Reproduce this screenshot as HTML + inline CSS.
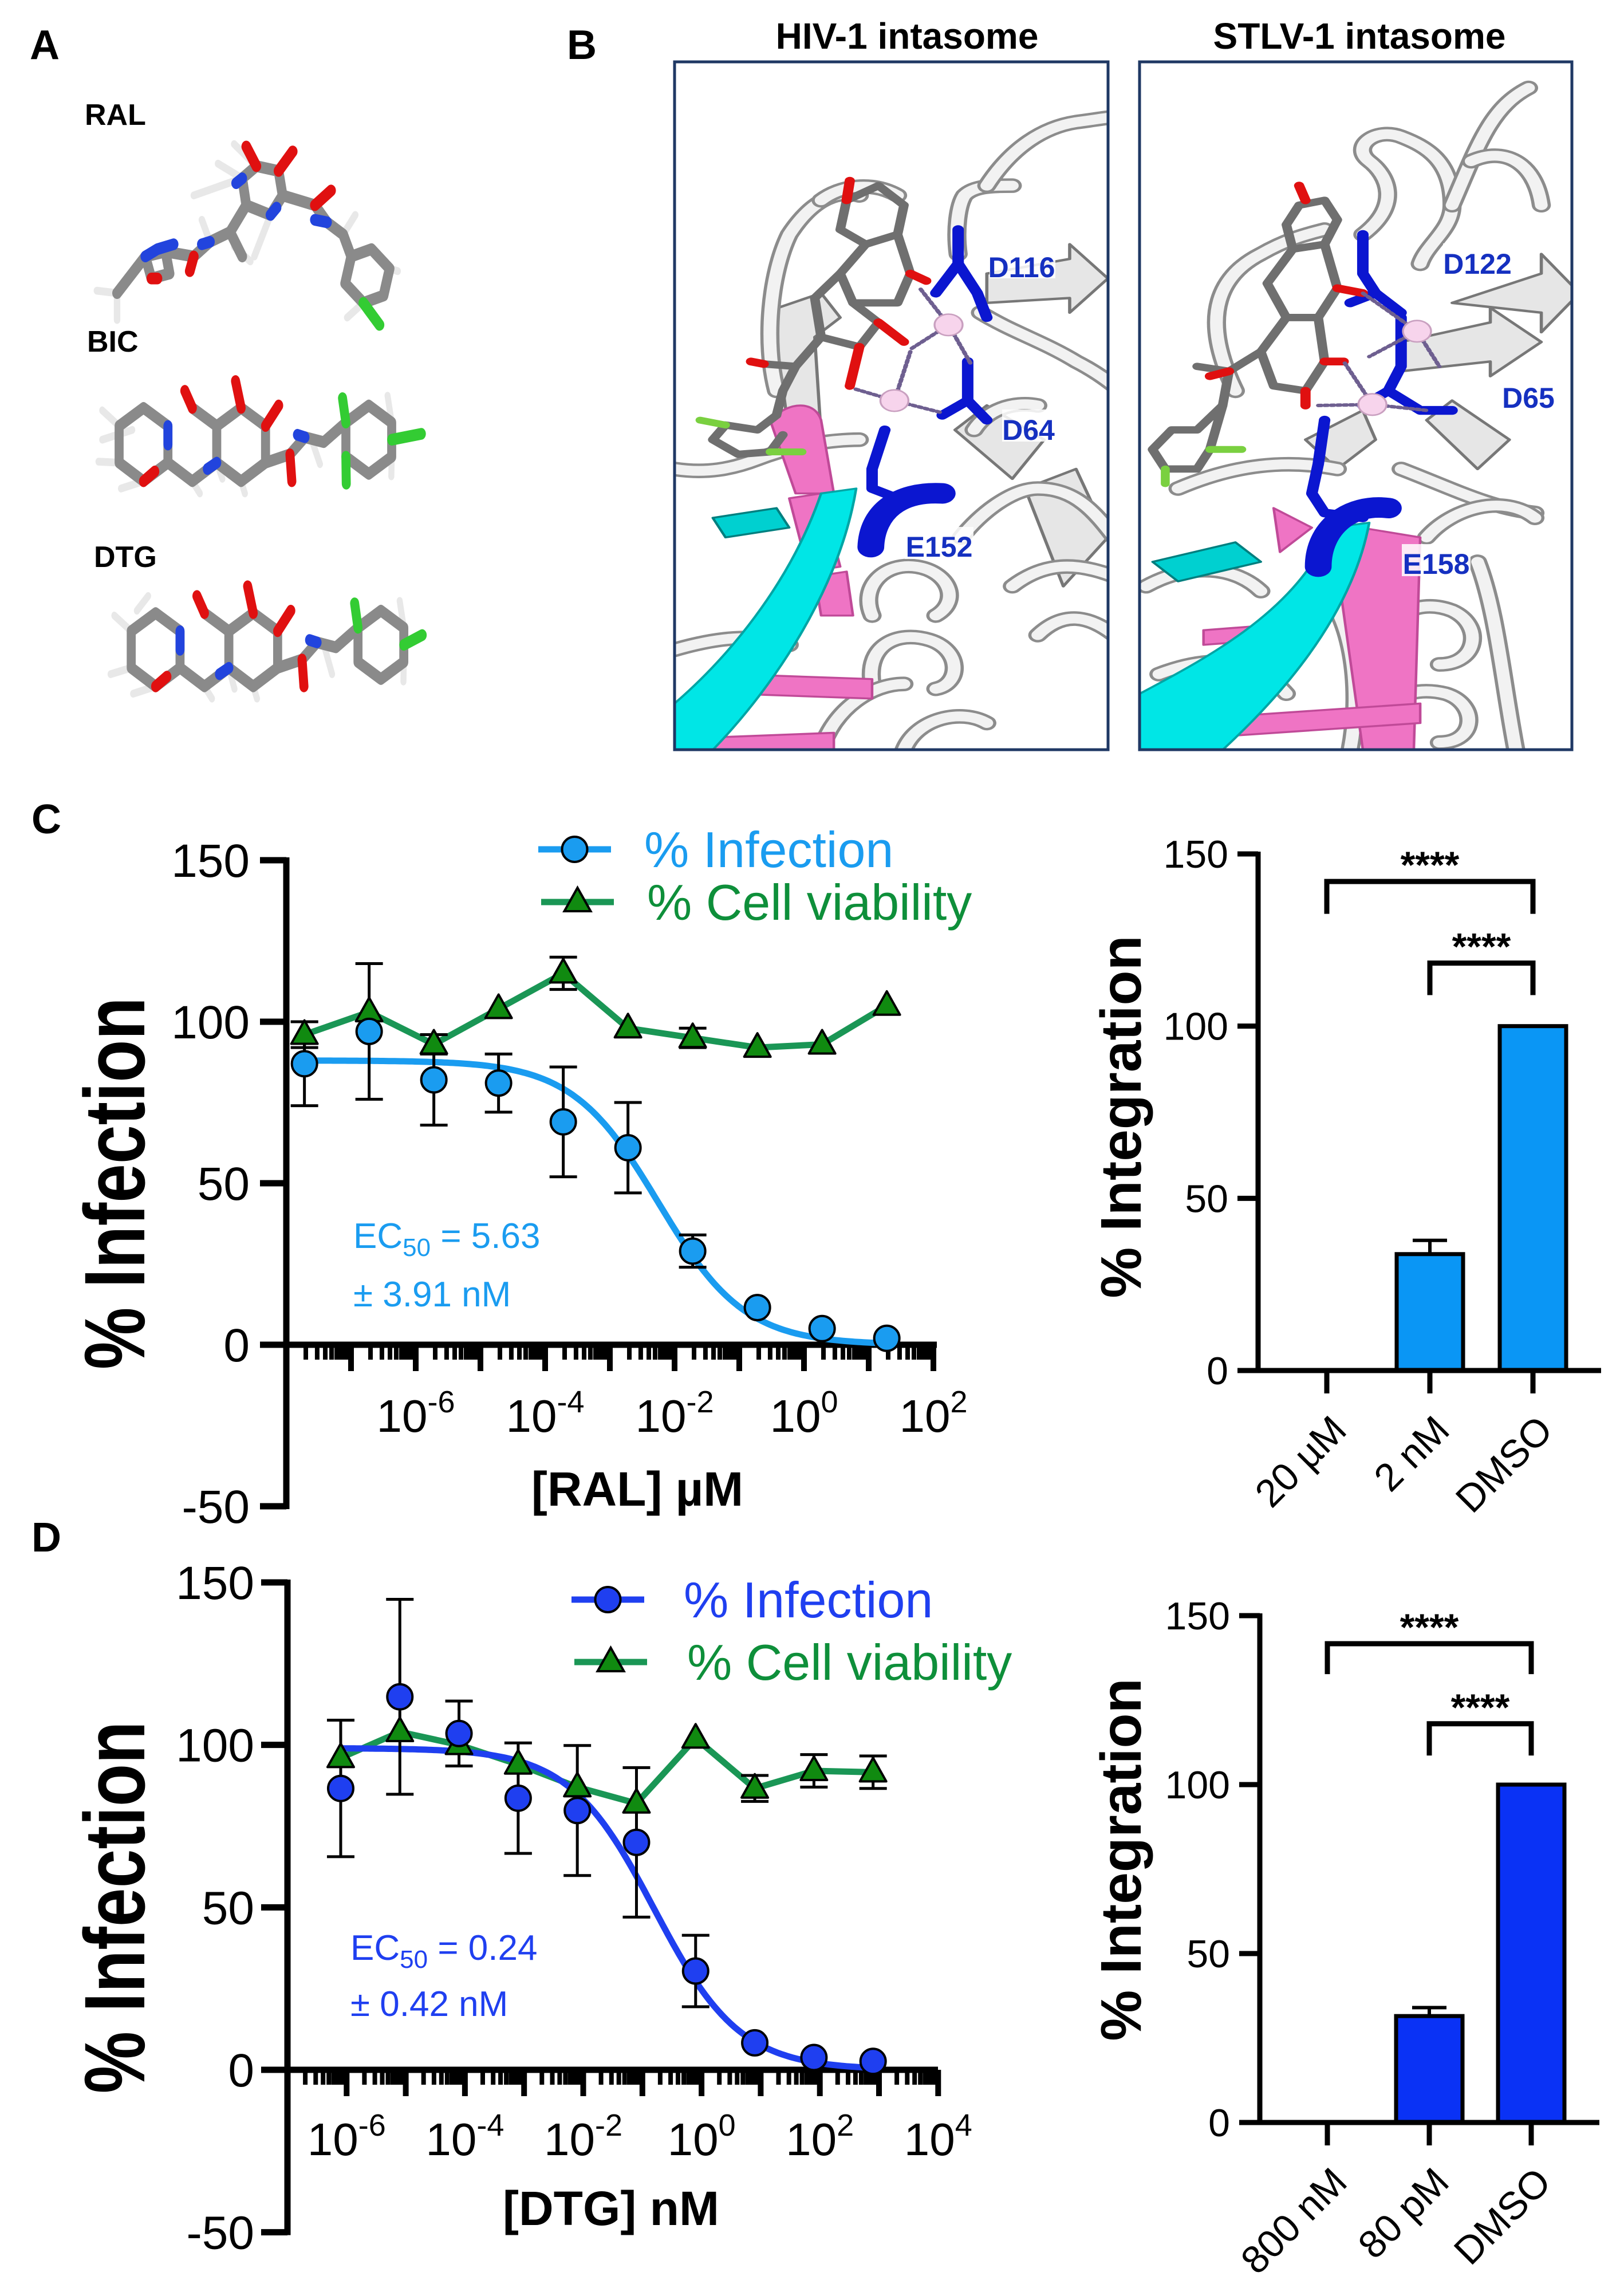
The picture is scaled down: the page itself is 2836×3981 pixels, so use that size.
<!DOCTYPE html>
<html><head><meta charset="utf-8"><style>
html,body{margin:0;padding:0;background:#fff;}
svg{display:block;}
text{font-family:"Liberation Sans",Arial,sans-serif;}
</style></head><body>
<svg id="fig" xmlns="http://www.w3.org/2000/svg" width="2836" height="3981" viewBox="0 0 2836 3981">
<rect x="0" y="0" width="2836" height="3981" fill="#fff"/>
<defs>
<clipPath id="clipB1"><rect x="1178" y="108" width="757" height="1201"/></clipPath>
<clipPath id="clipB2"><rect x="1990" y="108" width="755" height="1201"/></clipPath>
</defs>

<!-- Panel A -->
<text x="52" y="103" font-size="72" font-weight="bold">A</text>
<text x="148" y="218" font-size="52" font-weight="bold">RAL</text>
<text x="152" y="614" font-size="52" font-weight="bold">BIC</text>
<text x="164" y="990" font-size="52" font-weight="bold">DTG</text>

<g transform="matrix(0.705,0,0,0.853,0,0)" stroke-linecap="round" stroke-linejoin="round" fill="none">
 <g transform="translate(-20,55)">
  <g stroke="#e8e8e8" stroke-width="16">
   <path d="M655,285 L600,240 M690,385 L650,470 M540,440 L520,395 M310,545 L260,540 M310,545 L310,600 M985,495 L1005,500 M920,565 L880,595 M870,425 L900,385 M620,310 L560,280 M620,310 L500,345 M600,450 L640,480"/>
  </g>
  <g stroke="#8a8a8a" stroke-width="24">
   <path d="M620,310 L655,285 L710,295 L720,345 L690,385 L630,365 Z"/>
   <path d="M720,345 L800,365 L830,400 L870,425 L890,470"/>
   <path d="M890,470 L940,455 L985,495 L970,550 L920,565 L875,525 Z"/>
   <path d="M630,365 L590,420 L540,440 L500,470 L430,460"/>
   <path d="M430,460 L380,470 L395,515 L440,505 Z M380,470 L310,545"/>
   <path d="M590,420 L620,470"/>
  </g>
  <g stroke-width="24">
   <path d="M655,285 L630,245" stroke="#e01010"/>
   <path d="M710,295 L745,255" stroke="#e01010"/>
   <path d="M800,365 L840,335" stroke="#e01010"/>
   <path d="M500,470 L490,500" stroke="#e01010"/>
   <path d="M395,515 L410,515" stroke="#e01010"/>
   <path d="M690,385 L705,370 M620,310 L605,320" stroke="#2244dd"/>
   <path d="M830,400 L800,395" stroke="#2244dd"/>
   <path d="M540,440 L520,445" stroke="#2244dd"/>
   <path d="M380,470 L410,455 L450,445" stroke="#2244dd"/>
   <path d="M920,565 L960,610" stroke="#33cc33"/>
  </g>
 </g>
 <g transform="translate(30,0) scale(0.93,1)">
  <g stroke="#e8e8e8" stroke-width="16"><path d="M285,872 L240,840 M285,947 L230,945 M350,985 L290,1000 M545,947 L560,980 M610,985 L620,1010 M800,905 L820,950 M1011,865 L1000,810 M1011,935 L1010,975 M480,985 L500,1010 M240,900 L320,880"/></g>
  <g stroke="#8a8a8a" stroke-width="24">
   <path d="M350,835 L415,872 L415,947 L350,985 L285,947 L285,872 Z"/>
   <path d="M480,835 L545,872 L545,947 L480,985 L415,947"/>
   <path d="M610,835 L675,872 L675,947 L610,985 L545,947 M545,872 L610,835"/>
   <path d="M675,947 L740,930 L780,895 L830,905 L889,865"/>
   <path d="M950,830 L1011,865 L1011,935 L950,970 L889,935 L889,865 Z"/>
  </g>
  <g stroke-width="24">
   <path d="M480,835 L460,800" stroke="#e01010"/><path d="M610,835 L595,780" stroke="#e01010"/>
   <path d="M675,872 L710,830" stroke="#e01010"/><path d="M740,930 L745,985" stroke="#e01010"/>
   <path d="M350,985 L380,965" stroke="#e01010"/>
   <path d="M415,872 L415,910 M545,947 L520,960" stroke="#2244dd"/>
   <path d="M780,895 L760,890" stroke="#2244dd"/>
   <path d="M889,865 L880,815 M1011,900 L1090,888 M889,935 L890,990" stroke="#33cc33"/>
  </g>
 </g>
 <g transform="translate(60,420) scale(0.93,1)">
  <g stroke="#e8e8e8" stroke-width="16"><path d="M285,872 L240,840 M285,947 L230,960 M350,985 L290,1000 M545,947 L560,990 M610,985 L620,1010 M800,905 L820,960 M1011,865 L1000,810 M1011,935 L1010,975 M480,985 L500,1010 M300,830 L330,800"/></g>
  <g stroke="#8a8a8a" stroke-width="24">
   <path d="M350,835 L415,872 L415,947 L350,985 L285,947 L285,872 Z"/>
   <path d="M480,835 L545,872 L545,947 L480,985 L415,947"/>
   <path d="M610,835 L675,872 L675,947 L610,985 L545,947 M545,872 L610,835"/>
   <path d="M675,947 L740,930 L780,895 L830,905 L889,865"/>
   <path d="M950,830 L1011,865 L1011,935 L950,970 L889,935 L889,865 Z"/>
  </g>
  <g stroke-width="24">
   <path d="M480,835 L460,800" stroke="#e01010"/><path d="M610,835 L595,780" stroke="#e01010"/>
   <path d="M675,872 L710,830" stroke="#e01010"/><path d="M740,930 L745,985" stroke="#e01010"/>
   <path d="M350,985 L380,965" stroke="#e01010"/>
   <path d="M415,872 L415,910 M545,947 L520,960" stroke="#2244dd"/>
   <path d="M780,895 L760,890" stroke="#2244dd"/>
   <path d="M889,865 L880,815 M1011,900 L1060,880" stroke="#33cc33"/>
  </g>
 </g>
</g>

<!-- Panel B -->
<text x="990" y="103" font-size="72" font-weight="bold">B</text>
<text x="1584" y="85" font-size="64" font-weight="bold" text-anchor="middle">HIV-1 intasome</text>
<text x="2374" y="85" font-size="64" font-weight="bold" text-anchor="middle">STLV-1 intasome</text>

<g id="b1" clip-path="url(#clipB1)"></g>
<g id="b2" clip-path="url(#clipB2)"></g>
<rect x="1178" y="108" width="757" height="1201" fill="none" stroke="#1f3864" stroke-width="5"/>
<rect x="1990" y="108" width="755" height="1201" fill="none" stroke="#1f3864" stroke-width="5"/>
<g font-size="50" font-weight="bold" fill="#1530c0">
 <rect x="1728" y="430" width="115" height="56" fill="#fff" opacity="0.85"/>
 <text x="1784" y="484" text-anchor="middle">D116</text>
 <rect x="1750" y="715" width="95" height="56" fill="#fff" opacity="0.85"/>
 <text x="1796" y="768" text-anchor="middle">D64</text>
 <rect x="1580" y="920" width="120" height="56" fill="#fff" opacity="0.85"/>
 <text x="1640" y="972" text-anchor="middle">E152</text>
 <rect x="2520" y="425" width="120" height="56" fill="#fff" opacity="0.85"/>
 <text x="2580" y="478" text-anchor="middle">D122</text>
 <rect x="2620" y="660" width="100" height="56" fill="#fff" opacity="0.85"/>
 <text x="2669" y="712" text-anchor="middle">D65</text>
 <rect x="2448" y="950" width="120" height="56" fill="#fff" opacity="0.85"/>
 <text x="2508" y="1002" text-anchor="middle">E158</text>
</g>

<!-- Panel C / D -->
<text x="55" y="1455" font-size="72" font-weight="bold">C</text>
<text x="55" y="2709" font-size="72" font-weight="bold">D</text>
<g id="chartC"></g>
<g id="barC"></g>
<g id="chartD"></g>
<g id="barD"></g>
</svg>

<script>
// ---------- Panel C data ----------
const cLogConc = [-7.72,-6.72,-5.72,-4.72,-3.72,-2.72,-1.72,-0.72,0.28,1.28];
const cInfection = [87,97,82,81,69,61,29,11.5,5,2];
const cInfectionErr = [13,21,14,9,17,14,5,0,0,0];
const cViability = [96,103,93,104,115,98,95,92,93,105];
const cViabilityErr = [4,0,3,0,5,0,3,0,0,0];
const cFit = [88,0,-2.25,0.65]; // top, bottom, logEC50, hill
const cYTicks = [150,100,50,0,-50];
const cXLabelDecades = [-6,-4,-2,0,2];
const cBarLabels = ["20 µM","2 nM","DMSO"];
const cBarValues = [0.3,33.8,100];
const cBarErr = [0,4,0];
const cBarYTicks = [150,100,50,0];
const cSig = [[0,2,142,132.6,"****"],[1,2,118.3,109,"****"]];

// ---------- Panel D data ----------
const dLogConc = [-6.1,-5.1,-4.1,-3.1,-2.1,-1.1,-0.1,0.9,1.9,2.9];
const dInfection = [86.6,114.8,103.5,83.6,79.8,70,30.4,8.3,3.8,2.6];
const dInfectionErr = [21,30,10,17,20,23,11,0,0,0];
const dViability = [96,104,100,94,87,82,102,86.6,92,91.6];
const dViabilityErr = [0,0,0,0,0,0,0,4,5,5];
const dFit = [99,0,-0.8,0.6];
const dYTicks = [150,100,50,0,-50];
const dXLabelDecades = [-6,-4,-2,0,2,4];
const dBarLabels = ["800 nM","80 pM","DMSO"];
const dBarValues = [0,31.5,100];
const dBarErr = [0,2.5,0];
const dBarYTicks = [150,100,50,0];
const dSig = [[0,2,141.7,132.7,"****"],[1,2,118,108.6,"****"]];

const NS = 'http://www.w3.org/2000/svg';
function mk(tag, attrs, parent){
  const e = document.createElementNS(NS, tag);
  for (const k in attrs) e.setAttribute(k, attrs[k]);
  parent.appendChild(e);
  return e;
}

function doseChart(g, ax, logs, inf, infErr, via, viaErr, fit, yTicks, xLabs, col, legTxtCol, legend, ec, xTitle){
  const xPx = l => ax.xL + (l - ax.logMin) * ax.pxDec;
  const k = (ax.y0 - ax.y150) / 150;
  const yPx = v => ax.y0 - v * k;
  let el = mk('line', {x1:ax.xL, y1:yPx(150)-5, x2:ax.xL, y2:yPx(-50)+5, stroke:'#000','stroke-width':11}, g);
  
  
  yTicks.forEach(t => {
    const tk = mk('line', {x1:ax.xL-46, y1:yPx(t), x2:ax.xL, y2:yPx(t), stroke:'#000','stroke-width':11}, g);
    
    
    const tl = mk('text', {x:ax.labR, y:yPx(t)+29, 'font-size':82, 'text-anchor':'end'}, g);
    tl.textContent = String(t);
    
    
  });
  el = mk('line', {x1:ax.xL, y1:ax.y0, x2:ax.xR, y2:ax.y0, stroke:'#000','stroke-width':11}, g);
  
  
  for (let d = ax.logMin; d < ax.logMax; d++) {
    for (let m = 1; m <= 9; m++) {
      const lx = d + Math.log10(m);
      const len = m === 1 ? 46 : 26;
      const t = mk('line', {x1:xPx(lx), y1:ax.y0, x2:xPx(lx), y2:ax.y0+len, stroke:'#000','stroke-width': m===1?10:8}, g);
      
      
    }
  }
  el = mk('line', {x1:xPx(ax.logMax), y1:ax.y0, x2:xPx(ax.logMax), y2:ax.y0+46, stroke:'#000','stroke-width':10}, g);
  
  
  xLabs.forEach(d => {
    const t = mk('text', {x:xPx(d), y:ax.xLabBase, 'font-size':80, 'text-anchor':'middle'}, g);
    
    
    const a = mk('tspan', {}, t); a.textContent = '10';
    const b = mk('tspan', {'font-size':54, dy:-34}, t); b.textContent = String(d);
  });
  el = mk('text', {x:ax.xTitleX, y:ax.xTitleBase, 'font-size':84, 'font-weight':'bold', 'text-anchor':'middle'}, g);
  el.textContent = xTitle;
  
  
  const yc = (yPx(150) + yPx(-50)) / 2;
  el = mk('text', {x:0, y:0, 'font-size':150, 'font-weight':'bold', 'text-anchor':'middle', textLength:650, lengthAdjust:'spacingAndGlyphs', transform:`translate(252,${yc}) rotate(-90)`}, g);
  el.textContent = '% Infection';
  
  
  const vpts = logs.map((l,i) => `${xPx(l)},${yPx(via[i])}`).join(' ');
  el = mk('polyline', {points:vpts, fill:'none', stroke:'#1a9655', 'stroke-width':11, 'stroke-linejoin':'round'}, g);
  
  
  let d = '';
  const lo = logs[0], hi = logs[logs.length-1];
  for (let i = 0; i <= 200; i++) {
    const l = lo + (hi - lo) * i / 200;
    const v = fit[1] + (fit[0] - fit[1]) / (1 + Math.pow(10, (l - fit[2]) * fit[3]));
    d += (i ? 'L' : 'M') + xPx(l).toFixed(1) + ',' + yPx(v).toFixed(1);
  }
  el = mk('path', {d:d, fill:'none', stroke:col, 'stroke-width':11, 'stroke-linecap':'round'}, g);
  
  
  function errBar(x, v, e, name){
    if (!e) return;
    const eb = mk('path', {d:`M${x},${yPx(v+e)}L${x},${yPx(v-e)}M${x-24},${yPx(v+e)}L${x+24},${yPx(v+e)}M${x-24},${yPx(v-e)}L${x+24},${yPx(v-e)}`, stroke:'#000', 'stroke-width':5, fill:'none'}, g);
    
    
  }
  logs.forEach((l,i) => errBar(xPx(l), via[i], viaErr[i], 'viability-error-bar'));
  logs.forEach((l,i) => errBar(xPx(l), inf[i], infErr[i], 'infection-error-bar'));
  logs.forEach((l,i) => {
    const x = xPx(l), y = yPx(via[i]);
    const t = mk('polygon', {points:`${x},${y-25} ${x-23},${y+16} ${x+23},${y+16}`, fill:'#108a10', stroke:'#000', 'stroke-width':4, 'stroke-linejoin':'round'}, g);
    
    
  });
  logs.forEach((l,i) => {
    const c = mk('circle', {cx:xPx(l), cy:yPx(inf[i]), r:22, fill:col, stroke:'#000', 'stroke-width':4}, g);
    
    
  });
  const L = legend;
  el = mk('line', {x1:L.x1, y1:L.y1, x2:L.x2, y2:L.y1, stroke:col, 'stroke-width':11}, g);
  
  
  el = mk('circle', {cx:(L.x1+L.x2)/2, cy:L.y1, r:22, fill:col, stroke:'#000', 'stroke-width':4}, g);
  
  
  el = mk('text', {x:L.tx1, y:L.y1+31, 'font-size':88, fill:legTxtCol}, g);
  el.textContent = '% Infection';
  
  
  el = mk('line', {x1:L.x1+5, y1:L.y2, x2:L.x2+5, y2:L.y2, stroke:'#1a9655', 'stroke-width':11}, g);
  
  
  const mx = (L.x1+L.x2)/2+5, my = L.y2;
  el = mk('polygon', {points:`${mx},${my-25} ${mx-23},${my+16} ${mx+23},${my+16}`, fill:'#108a10', stroke:'#000', 'stroke-width':4}, g);
  
  
  el = mk('text', {x:L.tx2, y:L.y2+31, 'font-size':88, fill:'#0e8f3a'}, g);
  el.textContent = '% Cell viability';
  
  
  el = mk('text', {x:ec.x, y:ec.y1, 'font-size':62, fill:col}, g);
  
  
  let s = mk('tspan', {}, el); s.textContent = 'EC';
  s = mk('tspan', {'font-size':44, dy:14}, el); s.textContent = '50';
  s = mk('tspan', {dy:-14}, el); s.textContent = ' = ' + ec.v;
  el = mk('text', {x:ec.x, y:ec.y2, 'font-size':62, fill:col}, g);
  el.textContent = '± ' + ec.e + ' nM';
  
  
}

function barChart(g, ax, labels, vals, errs, yTicks, sig, col){
  const k = (ax.y0 - ax.y150) / 150;
  const yPx = v => ax.y0 - v * k;
  const xPx = i => ax.c0 + i * ax.step;
  let el = mk('line', {x1:ax.xL, y1:yPx(150)-4, x2:ax.xL, y2:ax.y0+4, stroke:'#000', 'stroke-width':9}, g);
  
  
  yTicks.forEach(t => {
    const tk = mk('line', {x1:ax.xL-36, y1:yPx(t), x2:ax.xL, y2:yPx(t), stroke:'#000', 'stroke-width':9}, g);
    
    
    const tl = mk('text', {x:ax.xL-52, y:yPx(t)+24, 'font-size':68, 'text-anchor':'end'}, g);
    tl.textContent = String(t);
    
    
  });
  el = mk('text', {x:0, y:0, 'font-size':100, 'font-weight':'bold', 'text-anchor':'middle', transform:`translate(${ax.titleX},${ax.titleY}) rotate(-90)`}, g);
  el.textContent = '% Integration';
  
  
  labels.forEach((lab,i) => {
    const x = xPx(i);
    if (vals[i] > 0.5) {
      const b = mk('rect', {x:x-58, y:yPx(vals[i]), width:116, height:ax.y0-yPx(vals[i]), fill:col, stroke:'#000', 'stroke-width':7}, g);
      
      
    }
    if (errs[i]) {
      const e = mk('path', {d:`M${x},${yPx(vals[i])}L${x},${yPx(vals[i]+errs[i])}M${x-30},${yPx(vals[i]+errs[i])}L${x+30},${yPx(vals[i]+errs[i])}`, stroke:'#000', 'stroke-width':6, fill:'none'}, g);
      
      
    }
    const tk = mk('line', {x1:x, y1:ax.y0, x2:x, y2:ax.y0+40, stroke:'#000', 'stroke-width':9}, g);
    
    
    const tl = mk('text', {x:0, y:0, 'font-size':68, 'text-anchor':'end', transform:`translate(${x+38},${ax.y0+108}) rotate(-45)`}, g);
    tl.textContent = lab;
    
    
  });
  el = mk('line', {x1:ax.xL, y1:ax.y0, x2:ax.xR, y2:ax.y0, stroke:'#000', 'stroke-width':9}, g);
  
  
  sig.forEach(s => {
    const xa = xPx(s[0]), xb = xPx(s[1]), yb = yPx(s[2]), yl = yPx(s[3]);
    const br = mk('path', {d:`M${xa},${yl}L${xa},${yb}L${xb},${yb}L${xb},${yl}`, fill:'none', stroke:'#000', 'stroke-width':9}, g);
    
    
    const st = mk('text', {x:(xa+xb)/2, y:yb-6, 'font-size':66, 'font-weight':'bold', 'text-anchor':'middle'}, g);
    st.textContent = s[4];
    
    
  });
}

doseChart(document.getElementById('chartC'),
  {xL:500, xR:1636, logMin:-8, logMax:2, pxDec:113, y150:1502, y0:2348, labR:436, xLabBase:2500, xTitleX:1113, xTitleBase:2629},
  cLogConc, cInfection, cInfectionErr, cViability, cViabilityErr, cFit, cYTicks, cXLabelDecades,
  '#1a9cf0', '#1a9cf0', {x1:940, x2:1067, y1:1483, y2:1575, tx1:1125, tx2:1130},
  {x:617, y1:2179, y2:2281, v:'5.63', e:'3.91'}, '[RAL]  µM');

doseChart(document.getElementById('chartD'),
  {xL:502, xR:1638, logMin:-7, logMax:4, pxDec:103.3, y150:2763, y0:3614, labR:444, xLabBase:3763, xTitleX:1067, xTitleBase:3885},
  dLogConc, dInfection, dInfectionErr, dViability, dViabilityErr, dFit, dYTicks, dXLabelDecades,
  '#1f3ff0', '#1f3ff0', {x1:998, x2:1125, y1:2793, y2:2902, tx1:1194, tx2:1200},
  {x:612, y1:3422, y2:3520, v:'0.24', e:'0.42'}, '[DTG]  nM');

barChart(document.getElementById('barC'),
  {xL:2197, xR:2796, y150:1491, y0:2393, c0:2317, step:180, titleX:1992, titleY:1950},
  cBarLabels, cBarValues, cBarErr, cBarYTicks, cSig, '#0a96f5');
barChart(document.getElementById('barD'),
  {xL:2200, xR:2793, y150:2821, y0:3706, c0:2318, step:178, titleX:1992, titleY:3247},
  dBarLabels, dBarValues, dBarErr, dBarYTicks, dSig, '#0a32f5');

// ---------- Panel B protein illustrations ----------
function tubes(g, list){
  list.forEach(d => {
    const a = mk('path', {d:d, fill:'none', stroke:'#8c8c8c', 'stroke-width':30, 'stroke-linecap':'round'}, g);
    
    
    const b = mk('path', {d:d, fill:'none', stroke:'#f2f2f2', 'stroke-width':20, 'stroke-linecap':'round'}, g);
    
    
  });
}
function scene(g, off, variant){
  const s = mk('g', {transform:`translate(1100,0) scale(1.113,0.853) translate(${off},0)`, 'stroke-linejoin':'round', 'stroke-linecap':'round'}, g);
  
  
  let el;
  const sheets = variant ? ['M480,700 L620,660 L620,630 L700,700 L620,770 L620,740 L480,760 Z','M560,620 L700,560 L700,520 L760,600 L700,680 L700,640 Z','M330,900 L420,840 L440,900 L380,960 Z','M520,860 L560,820 L650,900 L600,960 Z'] :
    ['M210,640 L300,600 L330,650 L290,690 L300,890 L250,890 L230,700 Z','M560,560 L690,530 L690,500 L750,570 L690,640 L690,610 L560,620 Z','M510,880 L560,830 L650,900 L600,980 Z','M620,1000 L700,960 L750,1100 L680,1200 Z'];
  sheets.forEach(p => {
    el = mk('path', {d:p, fill:'#e6e6e6', stroke:'#777', 'stroke-width':5}, s);
    
    
  });
  tubes(s, variant ? [
    'M130,1000 C220,950 300,940 380,960','M220,800 C160,640 200,560 260,520 C300,490 330,480 360,470',
    'M420,480 C480,420 460,360 430,330 C400,300 440,260 480,280 C520,300 560,330 560,420 C560,470 520,500 510,540',
    'M560,420 C600,300 620,220 680,180','M590,330 C640,300 690,330 700,420','M480,960 C560,1000 620,1040 690,1050',
    'M520,1100 C560,1040 640,1010 690,1060','M480,1350 C440,1270 500,1220 560,1250 C610,1280 600,1360 540,1360',
    'M470,1520 C430,1440 490,1400 550,1420 C600,1440 600,1520 540,1520','M100,1380 C200,1330 260,1360 300,1420',
    'M80,1200 C150,1150 220,1160 260,1210','M600,1150 C630,1250 640,1400 660,1535','M350,1200 C400,1250 420,1400 400,1535']
   : [
    'M230,800 C210,700 220,560 250,480 C290,400 330,390 360,400','M300,410 C330,380 380,370 420,400',
    'M515,520 C510,470 515,420 525,400 C540,380 570,380 600,380','M560,380 C600,300 650,260 700,250 C730,245 750,240 760,240',
    'M550,640 C600,680 650,700 700,740 C730,760 750,780 760,790','M70,960 C120,970 160,960 200,940 C260,910 320,900 360,900',
    'M70,1330 C150,1300 200,1300 250,1320','M380,1260 C360,1200 400,1150 450,1160 C500,1170 520,1230 480,1260',
    'M380,1400 C370,1320 420,1290 470,1310 C520,1330 520,1400 480,1410','M520,1100 C550,1050 600,1000 640,1000 C700,1000 730,1050 760,1100',
    'M540,880 C560,840 600,820 640,830','M600,1200 C650,1150 700,1150 760,1180','M300,1535 C320,1450 380,1400 430,1400',
    'M430,1535 C450,1470 520,1450 560,1480','M640,1300 C680,1250 720,1260 760,1300']);
  const pinks = variant ? ['M1100,1070 L1240,1100 L1230,1535 L1150,1535 Z','M900,1290 L1000,1280 L1000,1310 L900,1320 Z','M900,1470 L1240,1440 L1240,1480 L900,1510 Z','M1010,1040 L1070,1080 L1020,1130 Z']
    : ['M220,860 C250,820 290,820 300,860 L320,1010 L260,1010 Z','M160,1380 L380,1390 L380,1430 L160,1420 Z','M120,1510 L320,1500 L320,1535 L120,1535 Z','M290,1180 L340,1170 L350,1260 L300,1260 Z','M250,1020 L300,1010 L330,1160 L280,1170 Z'];
  pinks.forEach(p => {
    el = mk('path', {d:variant ? p.replace(/(\d+),/g,(m,a)=>(a-730)+','): p, fill:'#ef74c4', stroke:'#c04a98', 'stroke-width':4}, s);
    
    
  });
  const cy = variant ? 'M70,1420 C170,1350 320,1250 370,1080 L430,1070 C400,1280 270,1450 200,1535 L70,1535 Z' : 'M70,1440 C150,1350 250,1200 300,1010 L355,1000 C330,1200 230,1400 130,1535 L70,1535 Z';
  el = mk('path', {d:cy, fill:'#00e6e6', stroke:'#00a5a5', 'stroke-width':4}, s);
  
  
  el = mk('path', {d: variant ? 'M90,1150 L220,1110 L260,1150 L130,1190 Z' : 'M130,1060 L230,1040 L250,1080 L150,1100 Z', fill:'#00d0d0', stroke:'#007f7f', 'stroke-width':4}, s);
  
  
  const blue = variant ?
    ['M420,480 L420,560 L440,600 L480,640 M440,600 L400,620','M480,650 L480,750 L460,800 L420,830 M460,800 L510,840 L560,840','M360,860 L350,950 L340,1010 L360,1050 L420,1060']
   : ['M515,470 L515,540 L480,600 M515,540 L545,600 L560,650','M530,740 L530,820 L490,850 M530,820 L560,860','M400,880 L380,960 L380,1000 L420,1020'];
  blue.forEach(p => {
    el = mk('path', {d:p, fill:'none', stroke:'#0b16d0', 'stroke-width':18}, s);
    
    
  });
  el = mk('path', {d: variant ? 'M350,1160 C350,1080 400,1030 460,1040' : 'M378,1120 C380,1050 420,1005 490,1010', fill:'none', stroke:'#0b16d0', 'stroke-width':42}, s);
  
  
  const lig = variant ?
    ['M300,460 L320,420 L360,410 L380,450 L360,500 L310,510 Z','M310,510 L270,580 L300,650 L350,650 L380,590 L360,500','M300,650 L260,720 L280,790 L330,800 L360,740 L350,650','M260,720 L210,760 L200,830 M210,760 L160,750','M200,830 L160,880 L120,880 L90,920 L110,960 L160,960 L180,920 Z']
   : ['M330,470 L340,410 L390,380 L430,420 L420,480 L370,500 Z','M370,500 L330,560 L350,620 L420,620 L440,560 L420,480','M330,560 L290,610 L300,690 L360,710 L390,660 L350,620','M300,690 L260,750 L240,800 L230,850 M260,750 L210,745','M230,850 L200,880 L150,870 L130,900 L170,930 L220,925 L240,890'];
  lig.forEach(p => {
    el = mk('path', {d:p, fill:'none', stroke:'#6f6f6f', 'stroke-width':15}, s);
    
    
  });
  const reds = variant ? ['M330,410 L320,380','M380,590 L420,600','M360,740 L390,740','M330,800 L330,830','M210,760 L180,770'] : ['M340,410 L345,370','M440,560 L465,575','M390,660 L430,700','M360,710 L345,790','M210,745 L190,740'];
  reds.forEach(p => {
    el = mk('path', {d:p, fill:'none', stroke:'#e01010', 'stroke-width':16}, s);
    
    
  });
  const greens = variant ? ['M110,960 L110,990','M180,920 L230,920'] : ['M150,870 L110,860','M220,925 L270,925'];
  greens.forEach(p => {
    el = mk('path', {d:p, fill:'none', stroke:'#7ad040', 'stroke-width':14}, s);
    
    
  });
  const ions = variant ? [[505,678],[435,828]] : [[500,665],[415,820]];
  const coords = variant ? [[[505,678],[420,600]],[[505,678],[430,730]],[[505,678],[540,750]],[[435,828],[390,740]],[[435,828],[350,830]],[[435,828],[520,840]]]
    : [[[500,665],[455,590]],[[500,665],[440,715]],[[500,665],[535,745]],[[415,820],[350,795]],[[415,820],[440,720]],[[415,820],[490,845]]];
  coords.forEach(c => {
    el = mk('line', {x1:c[0][0], y1:c[0][1], x2:c[1][0], y2:c[1][1], stroke:'#6e5f90', 'stroke-width':7, 'stroke-dasharray':'5 5'}, s);
    
    
  });
  ions.forEach(p => {
    el = mk('circle', {cx:p[0], cy:p[1], r:22, fill:'#f7d4ec', stroke:'#c9a0c0', 'stroke-width':3}, s);
    
    
  });
}
scene(document.getElementById('b1'), 0, false);
scene(document.getElementById('b2'), 730, true);
</script>
</body></html>
